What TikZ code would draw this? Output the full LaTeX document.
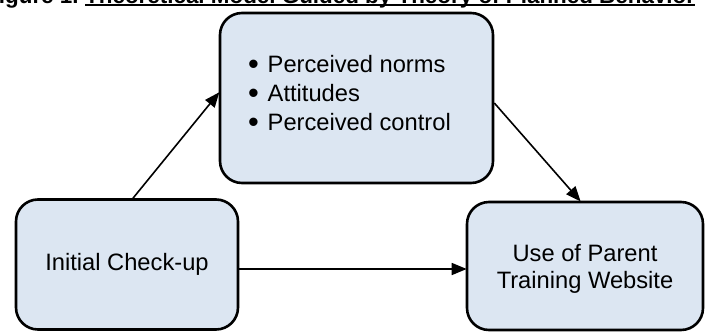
\documentclass[tikz,border=0pt]{standalone}
\usepackage{fontspec}
\setmainfont{Liberation Sans}
\usetikzlibrary{arrows.meta}
\definecolor{boxfill}{HTML}{DCE6F2}
\newcommand{\mybul}{\makebox[19.5pt][l]{\raisebox{-2.6pt}{\scalebox{1.3}{\textbullet}}}}
\tikzset{
  box/.style={draw=black, line width=2.6pt, fill=boxfill, rounded corners=22pt, inner sep=0pt},
  arr/.style={line width=1.6pt, -{Triangle[length=15pt,width=12pt]}, shorten >=-1pt},
  lbl/.style={inner sep=0pt, font=\fontsize{23.7}{27.3}\selectfont, align=center},
  ttl/.style={inner sep=0pt, font=\fontsize{22.4}{26}\selectfont\bfseries}
}
\begin{document}
\begin{tikzpicture}[x=1pt,y=-1pt]
\useasboundingbox (0,0) rectangle (711,332);
\fill[white] (0,0) rectangle (711,332);
\clip (0,0) rectangle (711,332);
% title (cut off at the top of the image)
\node[ttl, anchor=base west] (title) at (85,3) {Theoretical Model Guided by Theory of Planned Behavior};
\node[ttl, anchor=base east] (fig) at (78.8,3) {Figure 1.};
\draw[line width=2.5pt] ([yshift=-2pt]title.base west) -- ([yshift=-2pt]title.base east);
% boxes
\node[box, minimum width=273pt, minimum height=170pt] (pn) at (356.5,98) {};
\node[box, minimum width=222pt, minimum height=130pt] (ic) at (127,264.5) {};
\node[box, minimum width=236pt, minimum height=128pt] (use) at (585,266) {};
% texts
\node[inner sep=0pt, anchor=base west, align=left, font=\fontsize{23.7}{29}\selectfont] (pntext) at (248,130)
  {\mybul Perceived norms\\
   \mybul Attitudes\\
   \mybul Perceived control};
\node[lbl] (ictext) at (ic.center) {Initial Check-up};
\node[lbl] (usetext) at (585,269) {Use of Parent\\Training Website};
% connectors
\draw[arr] ([xshift=6pt]ic.north) -- ([yshift=5pt]pn.west);
\draw[arr] ([yshift=-5pt]pn.east) -- ([xshift=-5pt]use.north);
\draw[arr] ([yshift=-4.5pt]ic.east) -- ([yshift=-4.5pt]ic.east -| use.west);
\end{tikzpicture}
\end{document}
